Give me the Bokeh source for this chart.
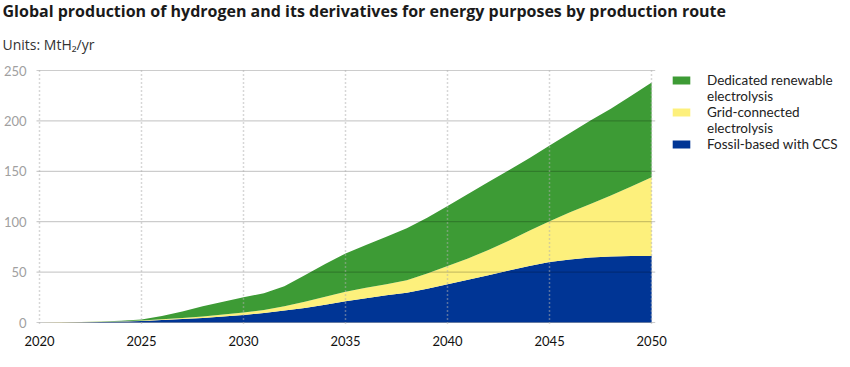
from bokeh.plotting import figure
from bokeh.models import (ColumnDataSource, Range1d, FixedTicker, Title, Legend,
                          LegendItem)
from bokeh.embed import file_html
from bokeh.resources import INLINE

# ---------------- data ----------------
years = list(range(2020, 2051))
fossil_ccs = [0, 0.1, 0.3, 0.6, 1.0, 1.5, 2.5, 3.5, 4.5, 6, 7.5, 9.5, 12, 14.5, 17.5, 21,
              24, 27, 29.5, 33.5, 38, 42.5, 47, 51.5, 56, 60, 62.5, 64.5, 65.5, 66, 66]
grid_connected = [0, 0.05, 0.1, 0.2, 0.3, 0.5, 0.7, 1.0, 1.5, 2, 2.5, 3, 4, 6, 8, 9.5,
                  10.5, 11, 12.5, 15, 18, 21, 25, 29.5, 35, 40.5, 47, 53, 60.5, 69, 78]
dedicated_renewable = [0, 0.15, 0.2, 0.2, 0.4, 1.0, 3.3, 6.5, 10, 12.5, 15, 16.5, 20, 26.5,
                       32.5, 38, 42.5, 47, 51.5, 55.5, 59.5, 64, 67.5, 70, 72, 75, 78.5, 83,
                       86, 90, 94]
series_labels = [["Dedicated renewable", "electrolysis"],
                 ["Grid-connected", "electrolysis"],
                 ["Fossil-based with CCS"]]
x_ticks = [2020, 2025, 2030, 2035, 2040, 2045, 2050]
y_ticks = [0, 50, 100, 150, 200, 250]
title_text = "Global production of hydrogen and its derivatives for energy purposes by production route"
units_text = "Units: MtH\u2082/yr"

GREEN = "#3d9b35"
YELLOW = "#fdf07c"
BLUE = "#003595"
FONT = "Lato"
TFONT = "Open Sans"

FL, FB, FT = 33, 323, 69
PX_PER_YEAR = 20.48
x_start = years[0] - 3 / PX_PER_YEAR
x_end = x_start + (850 - FL) / PX_PER_YEAR
grid_end = years[-1] + 3.6 / PX_PER_YEAR

src = ColumnDataSource(dict(year=years, fossil=fossil_ccs, grid=grid_connected,
                            renew=dedicated_renewable))

p = figure(width=850, height=367, output_backend="svg", toolbar_location=None,
           title=None,
           x_range=Range1d(x_start, x_end), y_range=Range1d(-0.99, 251.0),
           min_border_left=FL, min_border_right=0, min_border_top=FT,
           min_border_bottom=367 - FB)
p.outline_line_color = None
p.background_fill_color = "white"
p.border_fill_color = "white"

areas = p.varea_stack(stackers=["fossil", "grid", "renew"], x="year",
                      color=[BLUE, YELLOW, GREEN], source=src)
dummy = p.varea(x=[2020, 2021], y1=[0, 0], y2=[0, 0], fill_alpha=0)

# horizontal grid lines limited to the data span
p.ygrid.visible = False
p.segment(x0=[x_start] * len(y_ticks), x1=[grid_end] * len(y_ticks),
          y0=y_ticks, y1=y_ticks, line_color="#000000", line_alpha=0.2,
          line_width=1.2, level="overlay")

# axes
for ax in (p.xaxis[0], p.yaxis[0]):
    ax.axis_line_color = None
    ax.major_tick_line_color = None
    ax.minor_tick_line_color = None
    ax.major_label_text_font = FONT
    ax.major_label_text_font_size = "13px"
p.xaxis.ticker = FixedTicker(ticks=x_ticks)
p.yaxis.ticker = FixedTicker(ticks=y_ticks)
p.xaxis.major_label_text_color = "#111111"
p.xaxis.major_label_standoff = 6
p.yaxis.major_label_text_color = "#a0a0a0"
p.yaxis.major_label_standoff = 4

# vertical dotted grid
p.xgrid.ticker = FixedTicker(ticks=x_ticks)
p.xgrid.grid_line_color = "#b0b0b0"
p.xgrid.grid_line_dash = "1 3"
p.xgrid.grid_line_width = 1.5
p.xgrid.level = "overlay"

# title and units (units first = closest to the frame)
p.add_layout(Title(text=units_text, align="left", offset=-34, text_font=TFONT,
                   text_font_size="14px", text_font_style="normal",
                   text_color="#333333", standoff=31), "above")
p.add_layout(Title(text=title_text, align="left", offset=-34, text_font=TFONT,
                   text_font_size="16px", text_font_style="bold",
                   text_color="#1a1a1a", standoff=-8), "above")

# legend: green, yellow, blue; continuation lines use an invisible renderer
legend_renderers = [areas[2], areas[1], areas[0]]
items = []
for rend, lines in zip(legend_renderers, series_labels):
    items.append(LegendItem(label=lines[0], renderers=[rend]))
    for extra in lines[1:]:
        items.append(LegendItem(label=extra, renderers=[dummy]))

legend = Legend(items=items, location=(667 - FL, FB - 72 - 80), orientation="vertical",
                glyph_width=22, glyph_height=10, label_height=16, label_standoff=15,
                spacing=0, padding=0, margin=0, border_line_color=None,
                background_fill_alpha=0, label_text_font=FONT,
                label_text_font_size="13.5px", label_text_color="#222222")
p.add_layout(legend)

open("out.html", "w").write(file_html(p, INLINE))
